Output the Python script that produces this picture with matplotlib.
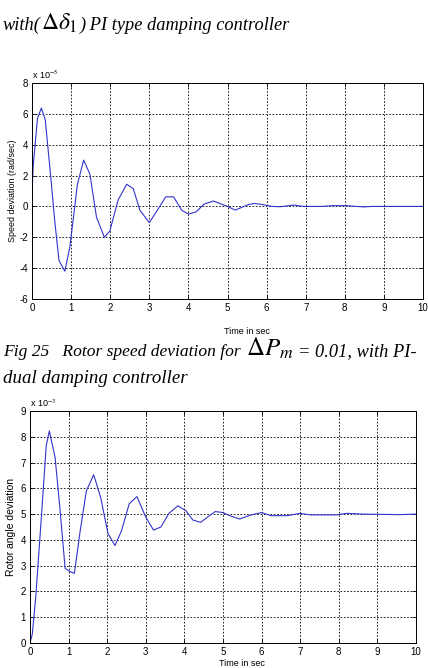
import matplotlib
matplotlib.use("Agg")
import matplotlib.pyplot as plt

# speed deviation (x 1e-5)
t_speed = [0, 0.03, 0.14, 0.24, 0.34, 0.48, 0.58, 0.69, 0.84, 0.97, 1.16, 1.32, 1.48,
           1.65, 1.85, 1.99, 2.2, 2.42, 2.59, 2.76, 3.0, 3.23, 3.42, 3.62, 3.83, 4.0,
           4.2, 4.4, 4.64, 5.0, 5.2, 5.5, 5.67, 5.88, 6.14, 6.35, 6.7, 6.95, 7.4, 7.7,
           8.06, 8.3, 8.5, 8.7, 10.0]
w_speed = [0.73, 2.6, 5.7, 6.38, 5.6, 1.9, -0.9, -3.5, -4.2, -2.6, 1.4, 3.0, 2.1,
           -0.7, -2.0, -1.6, 0.4, 1.44, 1.15, -0.25, -1.05, -0.15, 0.62, 0.62, -0.25, -0.5,
           -0.35, 0.15, 0.35, 0.0, -0.24, 0.09, 0.19, 0.13, 0.0, -0.02, 0.09, 0.0, 0.0, 0.05,
           0.05, 0.0, -0.03, 0.0, 0.0]

# rotor angle deviation (x 1e-3)
t_angle = [0, 0.06, 0.15, 0.3, 0.42, 0.5, 0.65, 0.77, 0.91, 1.0, 1.15, 1.3, 1.46,
           1.65, 1.83, 2.02, 2.2, 2.37, 2.57, 2.77, 3.0, 3.2, 3.39, 3.6, 3.83, 4.04,
           4.22, 4.42, 4.65, 4.8, 5.0, 5.17, 5.43, 5.73, 6.0, 6.24, 6.67, 7.0, 7.26,
           7.95, 8.2, 8.63, 9.57, 10.0]
d_angle = [0, 0.35, 1.8, 5.0, 7.65, 8.23, 7.2, 5.3, 2.9, 2.8, 2.7, 4.35, 5.9,
           6.53, 5.65, 4.25, 3.78, 4.35, 5.4, 5.68, 4.88, 4.38, 4.5, 5.03, 5.32, 5.13,
           4.77, 4.68, 4.94, 5.1, 5.06, 4.94, 4.81, 4.97, 5.06, 4.94, 4.94, 5.03, 4.97,
           4.97, 5.03, 5.0, 4.98, 5.0]

serif = ["Liberation Serif", "DejaVu Serif"]
sans = ["Liberation Sans", "DejaVu Sans"]
plt.rcParams["mathtext.fontset"] = "stix"
plt.rcParams["axes.unicode_minus"] = False
line_col = "#3333cc"

W, H = 428, 668
fig = plt.figure(figsize=(W / 100, H / 100), dpi=100)


def style_axes(ax, ylim, yticks, ylabel, ylab_size, ylab_x, mult, xlab_y):
    ax.set_xlim(0, 10)
    ax.set_ylim(*ylim)
    ax.set_xticks(range(0, 11))
    ax.set_yticks(yticks)
    ax.grid(True, color="black", linestyle=(0, (2, 2)), linewidth=0.6)
    ax.tick_params(direction="in", length=3, width=0.6, labelsize=7,
                   top=True, right=True, pad=3)
    for lab in ax.get_xticklabels() + ax.get_yticklabels():
        lab.set_family(sans)
    for s in ax.spines.values():
        s.set_linewidth(0.7)
    ax.set_ylabel(ylabel, fontsize=ylab_size, family=sans)
    ax.yaxis.set_label_coords(ylab_x, 0.5)
    ax.set_xlabel("Time in sec", fontsize=6.5, family=sans)
    ax.xaxis.set_label_coords(0.55, xlab_y)
    ax.text(0.0, 1.01, r"x 10$^{%d}$" % mult, transform=ax.transAxes,
            fontsize=6.5, family=sans, va="bottom", ha="left")


# top panel: axes from x 32..423, y 83..299
ax1 = fig.add_axes([32 / W, 1 - 299 / H, (423 - 32) / W, (299 - 83) / H])
ax1.plot(t_speed, w_speed, color=line_col, linewidth=0.8)
style_axes(ax1, (-6, 8), range(-6, 9, 2), "Speed deviation (rad/sec)", 6.4, -0.038,
           -5, -0.13)

# bottom panel: axes from x 30..416, y 411..643
ax2 = fig.add_axes([30 / W, 1 - 643 / H, (416 - 30) / W, (643 - 411) / H])
ax2.plot(t_angle, d_angle, color=line_col, linewidth=0.8)
style_axes(ax2, (0, 9), range(0, 10), "Rotor angle deviation", 7.5, -0.035,
           -3, -0.07)

it = dict(family=serif, style="italic", va="baseline")


def put(x, y, s, **kw):
    # x, y in pixels from the top-left corner
    fig.text(x / W, 1 - y / H, s, **kw)


put(3, 30, "with(", fontsize=13.2, **it)
put(41, 30, r"$\Delta\delta_{1}$", fontsize=17, va="baseline")
put(80, 30, ") PI type damping controller", fontsize=13.2, **it)

put(3, 356, "Fig 25   Rotor speed deviation for", fontsize=12.6, **it)
put(246, 356, r"$\Delta P_{m}$", fontsize=18, va="baseline")
put(298, 356, "= 0.01, with PI-", fontsize=13.2, **it)
put(3, 383, "dual damping controller", fontsize=13.6, **it)

fig.savefig("out.png", dpi=100)
